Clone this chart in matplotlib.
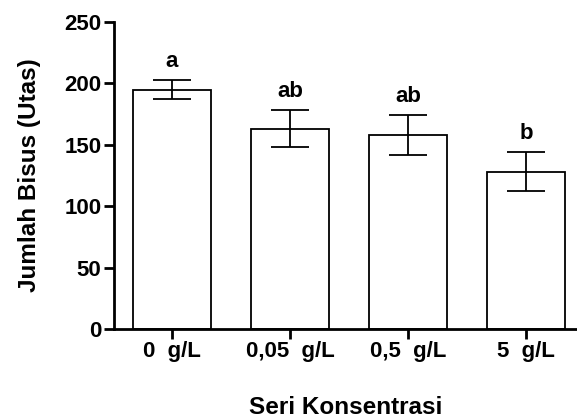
import matplotlib.pyplot as plt
import numpy as np

categories = ["0  g/L", "0,05  g/L", "0,5  g/L", "5  g/L"]
means = [195, 163, 158, 128]
errors = [8, 15, 16, 16]
letters = ["a", "ab", "ab", "b"]

plt.rcParams["font.family"] = ["Liberation Sans", "DejaVu Sans"]
plt.rcParams["font.weight"] = "bold"

fig = plt.figure(figsize=(5.77, 4.19), dpi=100)
ax = fig.add_axes([0.1976, 0.2148, 0.8024, 0.7327])

x = np.arange(len(categories))
ax.bar(x, means, width=0.66, color="white", edgecolor="black", linewidth=1.3)
ax.errorbar(x, means, yerr=errors, fmt="none", ecolor="black", elinewidth=1.3,
            capsize=14, capthick=1.3)

for xi, m, e, lab in zip(x, means, errors, letters):
    ax.text(xi, m + e + 15, lab, ha="center", va="center", fontsize=16, fontweight="bold")

ax.set_xlim(-0.49, 3.43)
ax.set_ylim(0, 250)
ax.set_yticks([0, 50, 100, 150, 200, 250])
ax.set_xticks(x)
ax.set_xticklabels(categories)

ax.spines["top"].set_visible(False)
ax.spines["right"].set_visible(False)
ax.spines["left"].set_linewidth(2)
ax.spines["bottom"].set_linewidth(2)
ax.tick_params(axis="both", labelsize=16, width=2, length=7, direction="out", pad=2)

ax.set_ylabel("Jumlah Bisus (Utas)", fontsize=17.5, fontweight="bold", labelpad=17)
ax.set_xlabel("Seri Konsentrasi", fontsize=17.5, fontweight="bold", labelpad=24)

fig.savefig("out.png", dpi=100)
